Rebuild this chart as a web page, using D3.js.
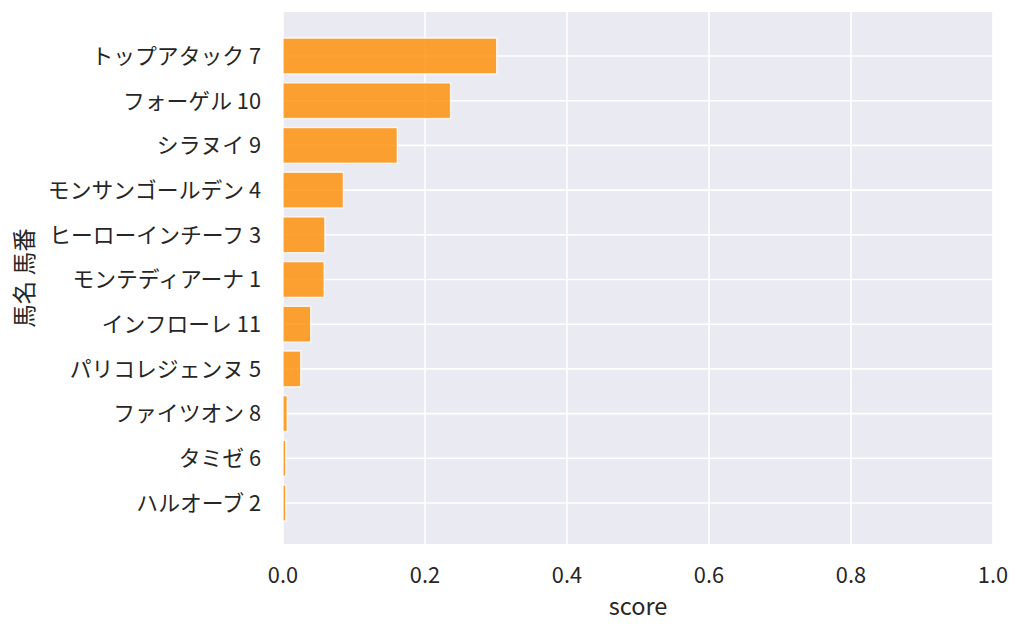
<!DOCTYPE html>
<html>
<head>
<meta charset="utf-8">
<script src="https://cdn.jsdelivr.net/npm/d3@7"></script>
<style>
  body { margin: 0; background: #fff; }
  text { font-family: "Noto Sans CJK JP", "Noto Sans", sans-serif; fill: #262626; }
</style>
</head>
<body>
<svg id="chart" width="1024" height="634"></svg>
<script>
// horse names + numbers, top to bottom
const horses = ["トップアタック 7", "フォーゲル 10", "シラヌイ 9", "モンサンゴールデン 4",
  "ヒーローインチーフ 3", "モンテディアーナ 1", "インフローレ 11", "パリコレジェンヌ 5",
  "ファイツオン 8", "タミゼ 6", "ハルオーブ 2"];
const scores = [0.301, 0.236, 0.161, 0.085, 0.059, 0.058, 0.039, 0.025, 0.006, 0.004, 0.004];
const xTicks = [0, 0.2, 0.4, 0.6, 0.8, 1.0];

const svg = d3.select('#chart');
const plotL = 283, plotR = 993, plotT = 12, plotB = 544;

let x = d3.scaleLinear().domain([0, 1]).range([plotL, plotR]);
// centres of the rows
let y = d3.scalePoint().domain(horses).range([56, 503]);
let bh = y.step() * 0.8;

svg.append('rect')
   .attr('x', plotL).attr('y', plotT)
   .attr('width', plotR - plotL).attr('height', plotB - plotT)
   .attr('fill', '#eaeaf2');

// grid
svg.append('g').selectAll('line').data(xTicks).join('line')
   .attr('x1', d => x(d)).attr('x2', d => x(d))
   .attr('y1', plotT).attr('y2', plotB)
   .attr('stroke', '#fff').attr('stroke-width', 1.6);
svg.append('g').selectAll('line').data(horses).join('line')
   .attr('x1', plotL).attr('x2', plotR)
   .attr('y1', d => y(d)).attr('y2', d => y(d))
   .attr('stroke', '#fff').attr('stroke-width', 1.6);

// bars
svg.append('g').selectAll('rect').data(horses).join('rect')
   .attr('x', x(0))
   .attr('y', d => y(d) - bh / 2)
   .attr('width', (d, i) => x(scores[i]) - x(0))
   .attr('height', bh)
   .attr('fill', '#ff8c00').attr('fill-opacity', 0.8)
   .attr('stroke', '#fff').attr('stroke-opacity', 0.8).attr('stroke-width', 1.4);

// y tick labels
svg.append('g').selectAll('text').data(horses).join('text')
   .attr('x', 261)
   .attr('y', d => y(d))
   .attr('dy', '0.36em')
   .attr('text-anchor', 'end')
   .attr('font-size', 21.8)
   .text(d => d);

// x tick labels
svg.append('g').selectAll('text').data(xTicks).join('text')
   .attr('x', d => x(d))
   .attr('y', 583)
   .attr('text-anchor', 'middle')
   .attr('font-size', 21.8)
   .text(d => d.toFixed(1));

svg.append('text')
   .attr('x', (plotL + plotR) / 2).attr('y', 615)
   .attr('text-anchor', 'middle')
   .attr('font-size', 23.5)
   .text('score');

svg.append('text')
   .attr('transform', `translate(25,${(plotT + plotB) / 2}) rotate(-90)`)
   .attr('dy', '0.36em')
   .attr('text-anchor', 'middle')
   .attr('font-size', 23.5)
   .text('馬名 馬番');
</script>
</body>
</html>
